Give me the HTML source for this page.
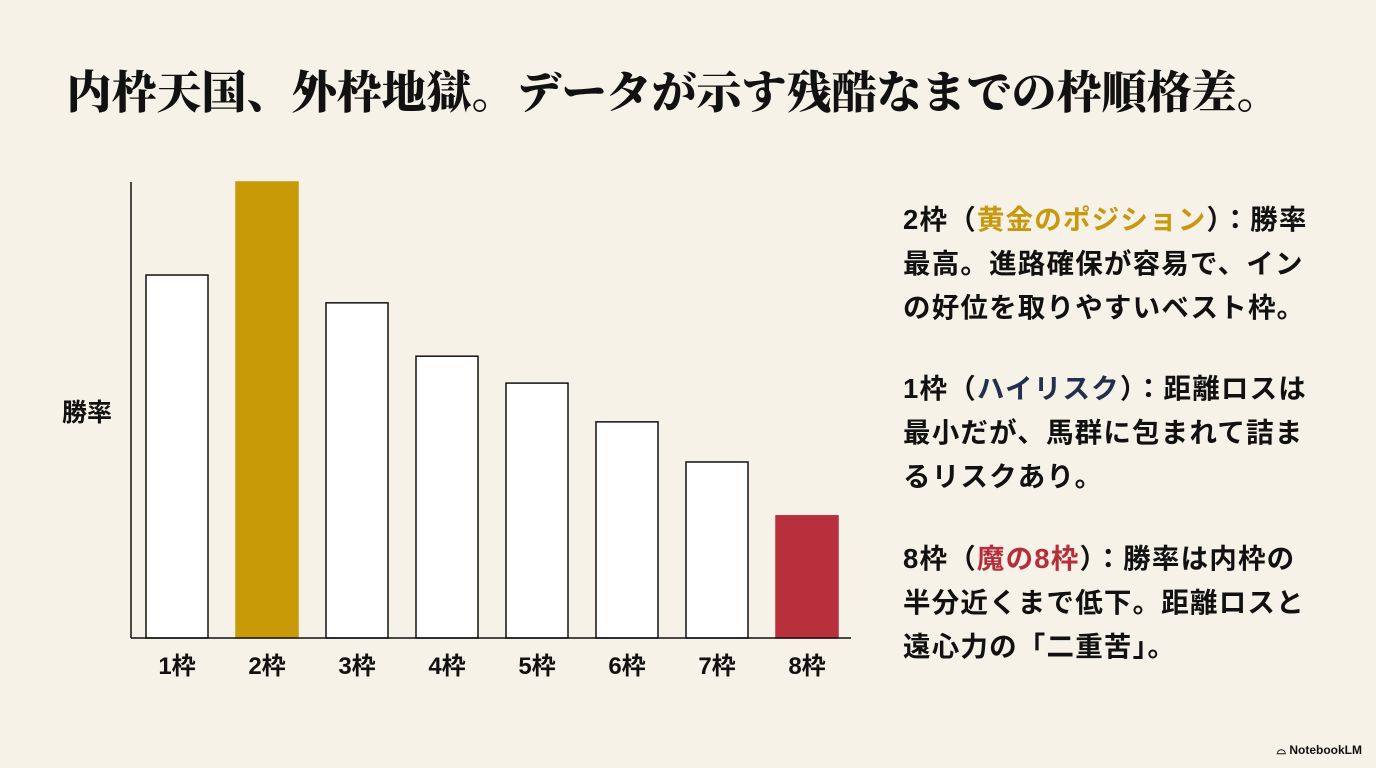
<!DOCTYPE html>
<html><head><meta charset="utf-8"><style>
body{margin:0;width:1376px;height:768px;background:#f6f2e8;overflow:hidden;position:relative;font-family:"Liberation Sans","Noto Sans CJK JP",sans-serif;color:#111}
#title{position:absolute;left:-14px;width:1376px;top:56px;text-align:center;font-family:"Liberation Serif","Noto Serif CJK SC",serif;font-weight:900;font-size:45px;letter-spacing:0px;margin:0}
.note{position:absolute;left:903px;font-weight:bold;font-size:27.5px;line-height:44px;letter-spacing:1.2px;margin:0;white-space:nowrap}
#brand{position:absolute;right:14px;bottom:10px;font-size:12px;font-weight:bold}
</style></head><body>
<h1 id="title">内枠天国、外枠地獄。データが示す残酷なまでの枠順格差。</h1>
<svg id="chart" width="1376" height="768" style="position:absolute;left:0;top:0"></svg>
<p class="note" style="top:198px">2枠（<span style="color:#c8990e">黄金のポジション</span>）：勝率<br>最高。進路確保が容易で、イン<br>の好位を取りやすいベスト枠。</p>
<p class="note" style="top:367px">1枠（<span style="color:#22304e">ハイリスク</span>）：距離ロスは<br>最小だが、馬群に包まれて詰ま<br>るリスクあり。</p>
<p class="note" style="top:537px">8枠（<span style="color:#b52e3a">魔の8枠</span>）：勝率は内枠の<br>半分近くまで低下。距離ロスと<br>遠心力の「二重苦」。</p>
<div id="brand">⌓ NotebookLM</div>
<script>
const categories=["1枠","2枠","3枠","4枠","5枠","6枠","7枠","8枠"];
const values=[7.96,10.0,7.35,6.18,5.59,4.74,3.86,2.68];
const fills=["#fff","#c99a08","#fff","#fff","#fff","#fff","#fff","#b8303c"];
const NS="http://www.w3.org/2000/svg";
const svg=document.getElementById('chart');
const x0=131,x1=851,yBase=638,yTop=182,vMax=10,step=90,barW=62,offset=15;
const yScale=v=>yBase-(v/vMax)*(yBase-yTop);
const xScale=i=>x0+offset+i*step;
function mk(t,a){const e=document.createElementNS(NS,t);for(const k in a)e.setAttribute(k,a[k]);svg.appendChild(e);return e;}
values.forEach((v,i)=>{
 const r=mk('rect',{x:xScale(i),y:yScale(v),width:barW,height:yBase-yScale(v),fill:fills[i],stroke:fills[i]==="#fff"?"#111":fills[i],'stroke-width':1.5});
 
 
 const t=mk('text',{x:xScale(i)+barW/2,y:674,'text-anchor':'middle','font-size':24,'font-weight':'bold',fill:'#111'});
 t.textContent=categories[i];
 
 
});
const ya=mk('line',{x1:x0,y1:yTop,x2:x0,y2:yBase,stroke:'#111','stroke-width':1.5});


const xa=mk('line',{x1:x0,y1:yBase,x2:x1,y2:yBase,stroke:'#111','stroke-width':1.5});


const yt=mk('text',{x:87,y:421,'text-anchor':'middle','font-size':25,'font-weight':'bold',fill:'#111'});
yt.textContent="勝率";


</script>
</body></html>
